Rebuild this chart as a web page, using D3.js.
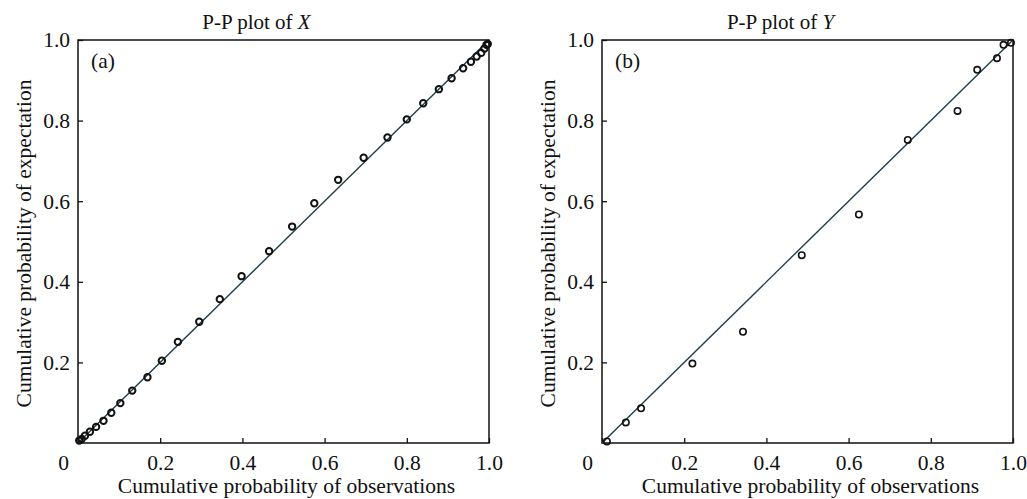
<!DOCTYPE html>
<html>
<head>
<meta charset="utf-8">
<script src="https://cdn.jsdelivr.net/npm/d3@7"></script>
<style>
  html, body { margin: 0; padding: 0; background: #fff; }
  svg { display: block; }
  text { font-family: "Liberation Serif", "Times New Roman", serif; fill: #111; }
</style>
</head>
<body>
<svg id="chart" width="1027" height="499"></svg>
<script>
// ---- Data ----
// Panel (a): P-P plot of X
const obsX = [0.003, 0.009, 0.017, 0.029, 0.044, 0.062, 0.081, 0.103, 0.132, 0.169, 0.204, 0.243, 0.295, 0.345, 0.398, 0.465, 0.521, 0.575, 0.633, 0.695, 0.753, 0.800, 0.840, 0.878, 0.909, 0.937, 0.956, 0.970, 0.981, 0.989, 0.994, 0.997];
const expX = [0.006, 0.010, 0.018, 0.028, 0.040, 0.055, 0.075, 0.099, 0.130, 0.163, 0.204, 0.251, 0.301, 0.357, 0.414, 0.476, 0.537, 0.595, 0.653, 0.708, 0.758, 0.803, 0.843, 0.878, 0.905, 0.930, 0.946, 0.959, 0.968, 0.979, 0.988, 0.990];
// Panel (b): P-P plot of Y
const obsY = [0.012, 0.058, 0.095, 0.220, 0.343, 0.486, 0.625, 0.744, 0.865, 0.913, 0.961, 0.977, 0.995];
const expY = [0.004, 0.051, 0.086, 0.197, 0.276, 0.466, 0.567, 0.752, 0.824, 0.926, 0.955, 0.988, 0.993];
// Reference diagonal
const refLine = [0, 1];
// Tick labels
const xTicks = [0, 0.2, 0.4, 0.6, 0.8, 1.0];
const xTickLabels = ["0", "0.2", "0.4", "0.6", "0.8", "1.0"];
const yTicks = [0.2, 0.4, 0.6, 0.8, 1.0];
const yTickLabels = ["0.2", "0.4", "0.6", "0.8", "1.0"];
const titles = ["P-P plot of ", "P-P plot of "];
const titleVars = ["X", "Y"];
const panelTags = ["(a)", "(b)"];
const xLabel = "Cumulative probability of observations";
const yLabel = "Cumulative probability of expectation";

// ---- Layout ----
const svg = d3.select("#chart");
const panels = [
  { left: 78, right: 489, obs: obsX, exp: expX, stroke: 2.0 },
  { left: 602, right: 1013, obs: obsY, exp: expY, stroke: 1.6 }
];
const plotTop = 40, plotBottom = 443;
const fsTick = 21.5, fsTitle = 21, fsLabel = 21.5;

panels.forEach((p, i) => {
  const x = d3.scaleLinear().domain([0, 1]).range([p.left, p.right]);
  const y = d3.scaleLinear().domain([0, 1]).range([plotBottom, plotTop]);
  const g = svg.append("g");

  // x axis (ticks inward)
  const xa = g.append("g").attr("transform", `translate(0,${plotBottom})`)
    .call(d3.axisBottom(x).tickValues(xTicks)
      .tickFormat((d, k) => xTickLabels[k])
      .tickSizeInner(-5).tickSizeOuter(0).tickPadding(12));
  xa.select(".domain").remove();
  xa.selectAll(".tick line").attr("stroke", "#111").attr("stroke-width", 1.3);
  xa.selectAll(".tick text").attr("font-size", fsTick).attr("font-family", "Liberation Serif").attr("fill", "#111")
    .attr("dx", (d) => d === 0 ? -15 : 0);

  // y axis
  const ya = g.append("g").attr("transform", `translate(${p.left},0)`)
    .call(d3.axisLeft(y).tickValues(yTicks)
      .tickFormat((d, k) => yTickLabels[k])
      .tickSizeInner(-5).tickSizeOuter(0).tickPadding(8));
  ya.select(".domain").remove();
  ya.selectAll(".tick line").attr("stroke", "#111").attr("stroke-width", 1.3);
  ya.selectAll(".tick text").attr("font-size", fsTick).attr("font-family", "Liberation Serif").attr("fill", "#111");

  // frame
  g.append("rect")
    .attr("x", x(0)).attr("y", y(1))
    .attr("width", x(1) - x(0)).attr("height", y(0) - y(1))
    .attr("fill", "none").attr("stroke", "#111").attr("stroke-width", 1.5);

  // reference line
  g.append("line")
    .attr("x1", x(refLine[0])).attr("y1", y(refLine[0]))
    .attr("x2", x(refLine[1])).attr("y2", y(refLine[1]))
    .attr("stroke", "#1f3d4a").attr("stroke-width", 1.4);

  // points
  g.selectAll("circle.pt").data(p.obs.map((v, k) => [v, p.exp[k]]))
    .join("circle").attr("class", "pt")
    .attr("cx", d => x(d[0])).attr("cy", d => y(d[1]))
    .attr("r", 3.2).attr("fill", "none")
    .attr("stroke", "#111").attr("stroke-width", p.stroke);

  // title
  const cx = (p.left + p.right) / 2;
  const t = g.append("text").attr("x", cx - 27).attr("y", 29)
    .attr("text-anchor", "middle").attr("font-size", fsTitle);
  t.append("tspan").text(titles[i]);
  t.append("tspan").attr("font-style", "italic").text(titleVars[i]);

  // panel tag
  g.append("text").attr("x", p.left + 13).attr("y", 68)
    .attr("font-size", fsTick).text(panelTags[i]);

  // x label
  g.append("text").attr("x", cx + 3).attr("y", 493)
    .attr("text-anchor", "middle").attr("font-size", fsLabel).text(xLabel);

  // y label
  g.append("text")
    .attr("transform", `translate(${p.left - 47},${(plotTop + plotBottom) / 2 + 2}) rotate(-90)`)
    .attr("text-anchor", "middle").attr("font-size", fsLabel).text(yLabel);
});
</script>
</body>
</html>
